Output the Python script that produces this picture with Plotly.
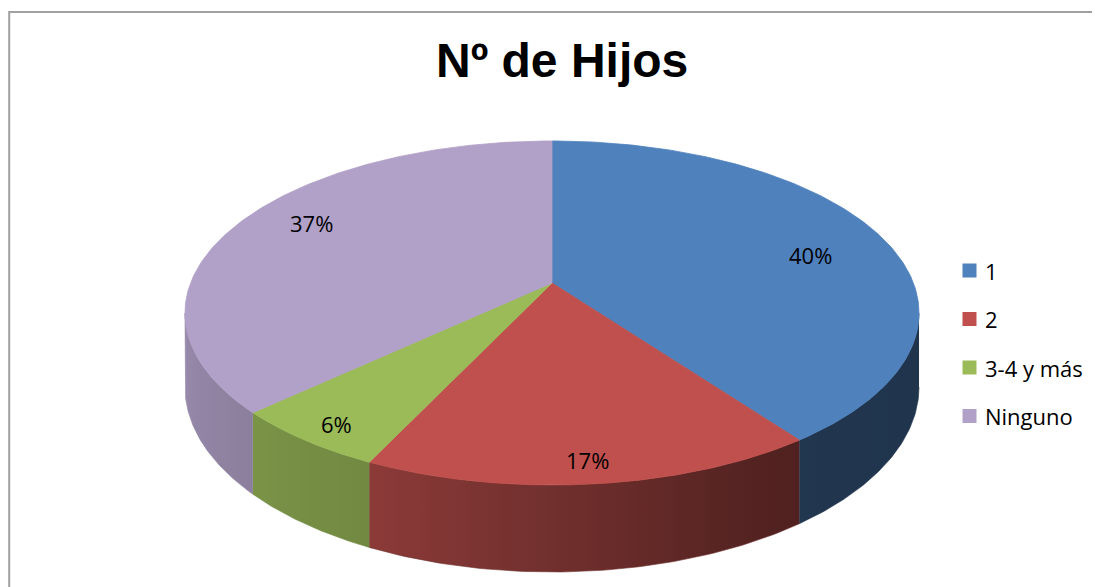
import numpy as np
import plotly.graph_objects as go

# ---- data ----
categories = ["1", "2", "3-4 y más", "Ninguno"]
values = [40, 17, 6, 37]
title_text = "Nº de Hijos"

# ---- style / layout constants ----
top_colors = ["#4F81BD", "#C0504D", "#9BBB59", "#B1A0C7"]
W, H = 1100, 587
PAGE_OFF = 8               # default body margin of the html page
CX, CY = 552, 283          # apex of the pie (pixels)
A, B = 361.4, 166.8        # horizontal / vertical radius scale
K = 0.1744                 # perspective factor
DEPTH = 71.8               # wall thickness scale
LABEL_XY = [(810, 255), (587, 460), (336, 424), (311, 223)]
LEGEND_X, LEGEND_Y0, LEGEND_DY = 969.5, 270.5, 48.5
FONT = "Open Sans"


def proj(theta_deg, r=1.0):
    t = np.radians(theta_deg)
    u = r * np.sin(t)
    v = -r * np.cos(t)
    den = 1 - K * v
    return CX + A * u / den, CY + B * v / den, den


def shade(hexcol, f):
    h = hexcol.lstrip("#")
    rgb = [int(h[i:i + 2], 16) for i in (0, 2, 4)]
    return "rgb({},{},{})".format(*[max(0, min(255, int(round(c * f)))) for c in rgb])


knots_t = [100, 150, 205, 227, 262]
knots_f = [0.40, 0.42, 0.73, 0.79, 0.87]

total = float(sum(values))
starts = np.cumsum([0] + values[:-1]) / total * 360.0
ends = np.cumsum(values) / total * 360.0

theta_r = np.degrees(np.arccos(-K))
theta_l = 360.0 - theta_r

fig = go.Figure()

# walls
for cat, s, e, col in zip(categories, starts, ends, top_colors):
    a0, a1 = max(s, theta_r), min(e, theta_l)
    if a1 <= a0:
        continue
    th = np.linspace(a0, a1, 80)
    xt, yt, den = proj(th)
    yb = yt + DEPTH / den
    xs = np.concatenate([xt, xt[::-1]])
    ys = np.concatenate([yt, yb[::-1]])
    xmin, xmax = xt.min(), xt.max()
    samp = np.linspace(a0, a1, 8)
    sx, _, _ = proj(samp)
    stops = sorted(
        [((x - xmin) / (xmax - xmin), shade(col, np.interp(t, knots_t, knots_f)))
         for x, t in zip(sx, samp)]
    )
    stops[0] = (0.0, stops[0][1])
    stops[-1] = (1.0, stops[-1][1])
    midf = np.interp((a0 + a1) / 2, knots_t, knots_f)
    fig.add_trace(go.Scatter(
        x=xs, y=ys, mode="lines", fill="toself",
        line=dict(width=0.6, color=shade(col, midf)),
        fillgradient=dict(type="horizontal", colorscale=[list(p) for p in stops]),
        hoverinfo="skip", showlegend=False,
    ))

# top faces
for cat, s, e, col in zip(categories, starts, ends, top_colors):
    th = np.linspace(s, e, 160)
    xa, ya, _ = proj(th)
    xs = np.concatenate([[CX], xa, [CX]])
    ys = np.concatenate([[CY], ya, [CY]])
    fig.add_trace(go.Scatter(
        x=xs, y=ys, mode="lines", fill="toself", fillcolor=col,
        line=dict(width=0.8, color=col), name=cat,
        hoverinfo="skip", showlegend=False,
    ))

# percentage labels
for v, (lx, ly) in zip(values, LABEL_XY):
    fig.add_annotation(x=lx, y=ly, text=f"{v}%", showarrow=False,
                       font=dict(family=FONT, size=22, color="black"),
                       xanchor="center", yanchor="middle")

# legend
ly = [LEGEND_Y0 + i * LEGEND_DY for i in range(len(categories))]
fig.add_trace(go.Scatter(
    x=[LEGEND_X] * len(categories), y=ly, mode="markers",
    marker=dict(symbol="square", size=14, color=top_colors, line=dict(width=0)),
    hoverinfo="skip", showlegend=False,
))
for cat, yy in zip(categories, ly):
    fig.add_annotation(x=LEGEND_X + 13.5, y=yy, text=cat, showarrow=False,
                       font=dict(family=FONT, size=22, color="black"),
                       xanchor="left", yanchor="middle")

# title
fig.add_annotation(x=562, y=60, text=f"<b>{title_text}</b>", showarrow=False,
                   font=dict(family="Liberation Sans, Arial", size=48, color="black"),
                   xanchor="center", yanchor="middle")

# border
fig.add_shape(type="rect", x0=9.2, y0=12, x1=W + 20, y1=H + 20,
              line=dict(color="#A0A0A0", width=2), layer="below")

fig.update_layout(
    width=W - PAGE_OFF, height=H - PAGE_OFF, margin=dict(l=0, r=0, t=0, b=0),
    paper_bgcolor="white", plot_bgcolor="white",
    xaxis=dict(range=[PAGE_OFF, W], visible=False, fixedrange=True),
    yaxis=dict(range=[H, PAGE_OFF], visible=False, fixedrange=True),
    hovermode=False, showlegend=False,
)

fig.write_html("out.html")
